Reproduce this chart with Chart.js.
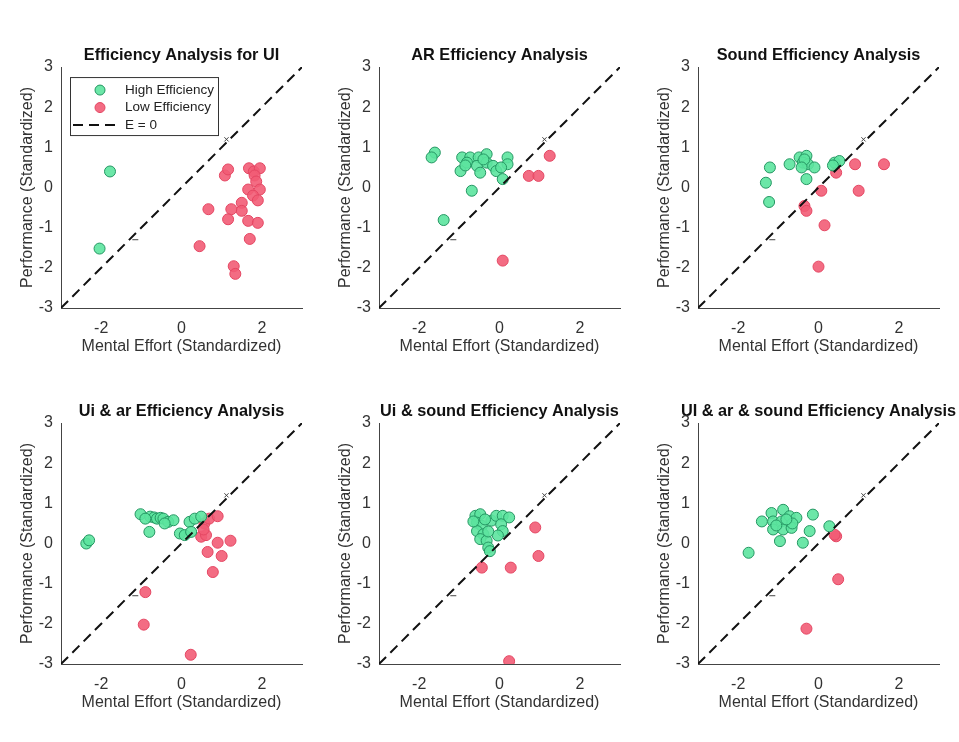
<!DOCTYPE html>
<html>
<head>
<meta charset="utf-8">
<script src="https://cdn.jsdelivr.net/npm/chart.js@4.4.1/dist/chart.umd.min.js"></script>
<style>
  html, body { margin: 0; padding: 0; background: #fff; overflow: hidden; }
  #wrap { position: relative; width: 959px; height: 742px; overflow: hidden; }
  #wrap canvas { position: absolute; }
</style>
</head>
<body>
<div id="wrap"></div>
<script>
// panel titles and axis labels
const titles = [
    'Efficiency Analysis for UI',
    'AR Efficiency Analysis',
    'Sound Efficiency Analysis',
    'Ui & ar Efficiency Analysis',
    'Ui & sound Efficiency Analysis',
    'UI & ar & sound Efficiency Analysis'
];
const xLabel = 'Mental Effort (Standardized)';
const yLabel = 'Performance (Standardized)';
const xTicks = [-2, 0, 2];
const yTicks = [-3, -2, -1, 0, 1, 2, 3];
const refLine = [[-3, -3], [3, 3]];
const smallMarks = [[1.12, 1.2], [-1.15, -1.3]];

// [mental effort, performance] pairs
const uiHigh = [[-1.78, 0.40], [-2.04, -1.52]];
const uiLow = [[1.08, 0.30], [1.16, 0.45], [1.68, 0.48], [1.80, 0.40], [1.95, 0.48], [1.82, 0.30],
    [1.86, 0.15], [1.66, -0.05], [1.95, -0.05], [1.78, -0.20], [1.90, -0.32], [1.50, -0.38],
    [1.50, -0.58], [1.24, -0.54], [0.67, -0.54], [1.16, -0.79], [1.66, -0.83], [1.90, -0.88],
    [1.70, -1.28], [0.45, -1.46], [1.30, -1.96], [1.34, -2.15]];

const arHigh = [[-1.61, 0.87], [-1.69, 0.75], [-0.93, 0.75], [-0.73, 0.75], [-0.52, 0.75], [-0.32, 0.83],
    [-0.81, 0.62], [-0.97, 0.41], [-0.56, 0.54], [-0.32, 0.62], [-0.16, 0.54], [-0.08, 0.41],
    [0.20, 0.75], [0.20, 0.58], [0.04, 0.50], [-0.48, 0.37], [0.08, 0.21], [-0.69, -0.08],
    [-1.39, -0.81], [-0.40, 0.70], [-0.85, 0.55]];
const arLow = [[1.25, 0.79], [0.73, 0.29], [0.97, 0.29], [0.08, -1.82]];

const soundHigh = [[-1.21, 0.50], [-1.31, 0.12], [-1.23, -0.36], [-0.72, 0.58], [-0.47, 0.75],
    [-0.30, 0.79], [-0.39, 0.62], [-0.26, 0.58], [-0.10, 0.50], [-0.30, 0.21], [0.40, 0.62],
    [0.52, 0.66], [0.36, 0.55], [-0.35, 0.70], [-0.42, 0.50]];
const soundLow = [[0.44, 0.37], [0.91, 0.58], [1.00, -0.08], [0.07, -0.08], [-0.35, -0.46],
    [-0.30, -0.58], [0.15, -0.94], [0.00, -1.97], [1.63, 0.58]];

const uiArHigh = [[-2.37, 0.00], [-2.30, 0.08], [-1.02, 0.73], [-0.78, 0.67], [-0.68, 0.65],
    [-0.61, 0.62], [-0.52, 0.64], [-0.45, 0.62], [-0.33, 0.54], [-0.20, 0.58], [-0.42, 0.50],
    [-0.80, 0.29], [-0.04, 0.25], [0.08, 0.21], [0.20, 0.54], [0.33, 0.62], [0.49, 0.67],
    [0.24, 0.29], [-0.90, 0.62]];
const uiArLow = [[0.57, 0.50], [0.69, 0.62], [0.90, 0.68], [0.49, 0.17], [0.61, 0.21], [0.90, 0.02],
    [1.22, 0.07], [0.65, -0.21], [1.00, -0.31], [0.78, -0.71], [-0.90, -1.21], [-0.94, -2.02],
    [0.23, -2.77], [0.55, 0.35]];

const uiSoundHigh = [[-0.60, 0.69], [-0.48, 0.73], [-0.56, 0.52], [-0.44, 0.44], [-0.56, 0.31],
    [-0.40, 0.23], [-0.48, 0.11], [-0.32, 0.07], [-0.28, -0.10], [-0.24, -0.19], [-0.20, 0.57],
    [-0.08, 0.69], [0.08, 0.69], [0.24, 0.65], [0.04, 0.48], [0.08, 0.31], [-0.04, 0.20],
    [-0.36, 0.60], [-0.65, 0.55], [-0.28, 0.30]];
const uiSoundLow = [[0.89, 0.40], [0.97, -0.31], [-0.44, -0.60], [0.28, -0.60], [0.24, -2.93]];

const allHigh = [[-1.41, 0.55], [-1.17, 0.76], [-0.88, 0.84], [-1.13, 0.55], [-0.92, 0.55],
    [-0.72, 0.68], [-0.55, 0.64], [-1.13, 0.35], [-0.88, 0.35], [-0.67, 0.39], [-0.65, 0.50],
    [-0.14, 0.72], [-0.22, 0.31], [-0.96, 0.06], [-0.39, 0.02], [0.27, 0.43], [-1.05, 0.45],
    [-1.74, -0.23], [-0.80, 0.60]];
const allLow = [[0.44, 0.18], [0.40, 0.22], [0.49, -0.89], [-0.30, -2.12]];

const highSets = [uiHigh, arHigh, soundHigh, uiArHigh, uiSoundHigh, allHigh];
const lowSets = [uiLow, arLow, soundLow, uiArLow, uiSoundLow, allLow];

const FONT = '"Liberation Sans", Arial, Helvetica, sans-serif';
const greenFill = 'rgba(92, 228, 158, 0.9)';
const greenEdge = 'rgb(36, 150, 98)';
const redFill = 'rgba(242, 92, 118, 0.9)';
const redEdge = 'rgb(228, 70, 98)';

const panelLeft = [0, 318, 637];
const panelTop = [0, 356];

function toPts(arr) {
    return arr.map(p => ({ x: p[0], y: p[1] }));
}

// boxed legend in the top left of the first panel
const legendBox = {
    id: 'legendBox',
    afterDraw(chart) {
        if (!chart.options.plugins.legendBox || !chart.options.plugins.legendBox.show) return;
        const ctx = chart.ctx;
        const a = chart.chartArea;
        const x0 = a.left + 9, y0 = a.top + 10, w = 148, h = 58;
        ctx.save();
        ctx.fillStyle = '#fff';
        ctx.fillRect(x0, y0, w, h);
        ctx.strokeStyle = '#333';
        ctx.lineWidth = 1;
        ctx.strokeRect(x0 + 0.5, y0 + 0.5, w, h);
        const ds = chart.data.datasets;
        const rows = [ds[1], ds[2], ds[0]];
        ctx.font = '13.5px ' + FONT;
        ctx.textBaseline = 'middle';
        rows.forEach((d, i) => {
            const cy = y0 + 13 + i * 17.5;
            if (d.type === 'line') {
                ctx.setLineDash([10, 6]);
                ctx.strokeStyle = d.borderColor;
                ctx.lineWidth = 2;
                ctx.beginPath();
                ctx.moveTo(x0 + 3, cy);
                ctx.lineTo(x0 + 45, cy);
                ctx.stroke();
                ctx.setLineDash([]);
            } else {
                ctx.beginPath();
                ctx.arc(x0 + 30, cy, 5, 0, Math.PI * 2);
                ctx.fillStyle = d.backgroundColor;
                ctx.fill();
                ctx.strokeStyle = d.borderColor;
                ctx.lineWidth = 1;
                ctx.stroke();
            }
            ctx.fillStyle = '#222';
            ctx.fillText(d.label, x0 + 55, cy);
        });
        ctx.restore();
    }
};

const wrap = document.getElementById('wrap');

titles.forEach((title, i) => {
    const canvas = document.createElement('canvas');
    canvas.width = 363;
    canvas.height = 360;
    canvas.style.left = panelLeft[i % 3] + 'px';
    canvas.style.top = panelTop[Math.floor(i / 3)] + 'px';
    wrap.appendChild(canvas);

    new Chart(canvas.getContext('2d'), {
        type: 'scatter',
        data: {
            datasets: [
                {
                    label: 'E = 0',
                    type: 'line',
                    data: toPts(refLine),
                    borderColor: '#111',
                    borderWidth: 2,
                    borderDash: [10, 6],
                    pointRadius: 0,
                    fill: false
                },
                {
                    label: 'High Efficiency',
                    data: toPts(highSets[i]),
                    backgroundColor: greenFill,
                    borderColor: greenEdge,
                    borderWidth: 1,
                    pointRadius: 5.5
                },
                {
                    label: 'Low Efficiency',
                    data: toPts(lowSets[i]),
                    backgroundColor: redFill,
                    borderColor: redEdge,
                    borderWidth: 1,
                    pointRadius: 5.5
                },
                {
                    label: 'marks',
                    data: toPts(smallMarks),
                    pointStyle: ['crossRot', 'line'],
                    pointRadius: 3,
                    borderColor: '#444',
                    borderWidth: 1,
                    backgroundColor: '#444'
                }
            ]
        },
        options: {
            responsive: false,
            animation: false,
            devicePixelRatio: 1,
            layout: { padding: { top: 45.5, right: 0, bottom: 0, left: 0 } },
            plugins: {
                legend: { display: false },
                tooltip: { enabled: false },
                legendBox: { show: i === 0 },
                title: {
                    display: true,
                    text: title,
                    color: '#111',
                    font: { family: FONT, size: 16.3, weight: 'bold', lineHeight: 1.2 },
                    padding: { top: 0, bottom: 2 }
                }
            },
            scales: {
                x: {
                    type: 'linear',
                    min: -3,
                    max: 3,
                    afterBuildTicks: s => { s.ticks = xTicks.map(v => ({ value: v })); },
                    afterFit: s => { s.height = 52; },
                    grid: { display: false, drawTicks: false },
                    border: { display: true, color: '#444', width: 1 },
                    ticks: { padding: 11, color: '#333', font: { family: FONT, size: 16 } },
                    title: {
                        display: true,
                        text: xLabel,
                        color: '#333',
                        font: { family: FONT, size: 16, lineHeight: 1.2 },
                        padding: { top: 0, bottom: 3.5 }
                    }
                },
                y: {
                    type: 'linear',
                    min: -3,
                    max: 3,
                    afterBuildTicks: s => { s.ticks = yTicks.map(v => ({ value: v })); },
                    afterFit: s => { s.width = 61; },
                    grid: { display: false, drawTicks: false },
                    border: { display: true, color: '#444', width: 1 },
                    ticks: { padding: 8, color: '#333', font: { family: FONT, size: 16 } },
                    title: {
                        display: true,
                        text: yLabel,
                        color: '#333',
                        font: { family: FONT, size: 16, lineHeight: 1.2 },
                        padding: { top: 18, bottom: 0 }
                    }
                },
                // empty right-hand axis, keeps the plot centred under its title
                yRight: {
                    type: 'linear',
                    position: 'right',
                    min: -3,
                    max: 3,
                    afterFit: s => { s.width = 61; },
                    grid: { display: false, drawTicks: false },
                    border: { display: false },
                    ticks: { display: false }
                }
            }
        },
        plugins: [legendBox]
    });
});
</script>
</body>
</html>
